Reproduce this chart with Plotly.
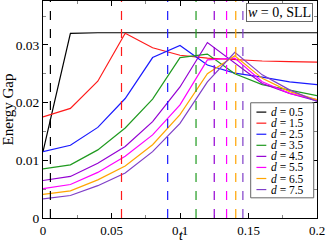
import plotly.graph_objects as go

t = [0.0, 0.02, 0.04, 0.06, 0.08, 0.10, 0.12, 0.14, 0.16, 0.18, 0.20]

labels = ["0.5", "1.5", "2.5", "3.5", "4.5", "5.5", "6.5", "7.5"]
d05 = [0.0115, 0.0320, 0.0321, 0.0321, 0.0321, 0.0321, 0.0321, 0.0321, 0.0321, 0.0321, 0.0321]
d15 = [0.0175, 0.0190, 0.0237, 0.0320, 0.0295, 0.0282, 0.0277, 0.0274, 0.0272, 0.0271, 0.0270]
d25 = [0.0115, 0.0126, 0.0157, 0.0207, 0.0278, 0.0299, 0.0265, 0.0251, 0.0244, 0.0236, 0.0231]
d35 = [0.0085, 0.0092, 0.0118, 0.0156, 0.0206, 0.0278, 0.0284, 0.0250, 0.0231, 0.0221, 0.0212]
d45 = [0.0065, 0.0072, 0.0095, 0.0124, 0.0167, 0.0227, 0.0304, 0.0269, 0.0233, 0.0216, 0.0203]
d55 = [0.0051, 0.0058, 0.0079, 0.0107, 0.0144, 0.0196, 0.0274, 0.0277, 0.0236, 0.0216, 0.0205]
d65 = [0.0041, 0.0047, 0.0066, 0.0090, 0.0127, 0.0179, 0.0250, 0.0281, 0.0242, 0.0219, 0.0205]
d75 = [0.0033, 0.0039, 0.0056, 0.0078, 0.0115, 0.0164, 0.0236, 0.0287, 0.0248, 0.0222, 0.0202]
series = [d05, d15, d25, d35, d45, d55, d65, d75]

crit_t = [0.0054, 0.0573, 0.0910, 0.1117, 0.1250, 0.1340, 0.1407, 0.1459]

colors = ["#000000", "#ff1a1a", "#1a1aff", "#1f9a1f", "#9400d3", "#ff00ff", "#ffa500", "#7f3fc8"]

FONT = "Liberation Serif"

fig = go.Figure()

for tc, c in zip(crit_t, colors):
    fig.add_shape(type="line", xref="x", yref="paper", x0=tc, x1=tc, y0=0, y1=1,
                  line=dict(color=c, width=1.2, dash="dash"), layer="above")

for lab, ys, c in zip(labels, series, colors):
    fig.add_trace(go.Scatter(x=t, y=ys, mode="lines", name="d = " + lab,
                             line=dict(color=c, width=1.2), showlegend=False))

# custom compact legend (paper coordinates)
lx0, lx1, ly0, ly1 = 0.758, 0.988, 0.093, 0.531
fig.add_shape(type="rect", xref="paper", yref="paper", x0=lx0, x1=lx1, y0=ly0, y1=ly1,
              line=dict(color="#666666", width=1), fillcolor="white", layer="above")
n = len(labels)
top_c, bot_c = 0.488, 0.131
for i, (lab, c) in enumerate(zip(labels, colors)):
    yy = top_c - i * (top_c - bot_c) / (n - 1)
    fig.add_shape(type="line", xref="paper", yref="paper", x0=0.779, x1=0.815, y0=yy, y1=yy,
                  line=dict(color=c, width=1.2), layer="above")
    fig.add_annotation(xref="paper", yref="paper", x=0.826, y=yy, xanchor="left", yanchor="middle",
                       text="<i>d</i> = " + lab, showarrow=False,
                       font=dict(family=FONT, size=11.5, color="black"))

fig.add_annotation(xref="paper", yref="paper", x=0.987, y=0.993, xanchor="right", yanchor="top",
                   text="<i>w</i> = 0, SLL", showarrow=False,
                   font=dict(family=FONT, size=14, color="black"),
                   bgcolor="white", bordercolor="#666666", borderwidth=1, borderpad=1)

# x axis title
fig.add_annotation(xref="paper", yref="paper", x=0.505, y=-0.118, xanchor="center", yanchor="bottom",
                   text="<i>t</i>", showarrow=False, borderpad=0,
                   font=dict(family=FONT, size=14, color="black"))

fig.update_layout(
    width=327, height=243,
    margin=dict(l=43, r=10, t=1, b=25, pad=0, autoexpand=False),
    paper_bgcolor="white", plot_bgcolor="white",
    font=dict(family=FONT, size=14, color="black"),
    showlegend=False,
)
fig.update_xaxes(range=[0, 0.2], dtick=0.05, tick0=0, ticks="inside", ticklen=5, tickcolor="black",
                 showline=True, linecolor="black", linewidth=1, mirror="allticks",
                 showgrid=False, zeroline=False,
                 minor=dict(dtick=0.025, ticks="inside", ticklen=3, tickcolor="#888888", showgrid=False),
                 tickfont=dict(family=FONT, size=13))
fig.update_yaxes(range=[0, 0.0376], dtick=0.01, tick0=0, ticks="inside", ticklen=5, tickcolor="black",
                 showline=True, linecolor="black", linewidth=1, mirror="allticks",
                 showgrid=False, zeroline=False,
                 minor=dict(dtick=0.005, ticks="inside", ticklen=3, tickcolor="#888888", showgrid=False),
                 tickfont=dict(family=FONT, size=13.5),
                 title=dict(text="Energy Gap", font=dict(family=FONT, size=15), standoff=3))

fig.write_html("out.html", config={"displayModeBar": False},
               post_script="document.body.style.margin='0';")
